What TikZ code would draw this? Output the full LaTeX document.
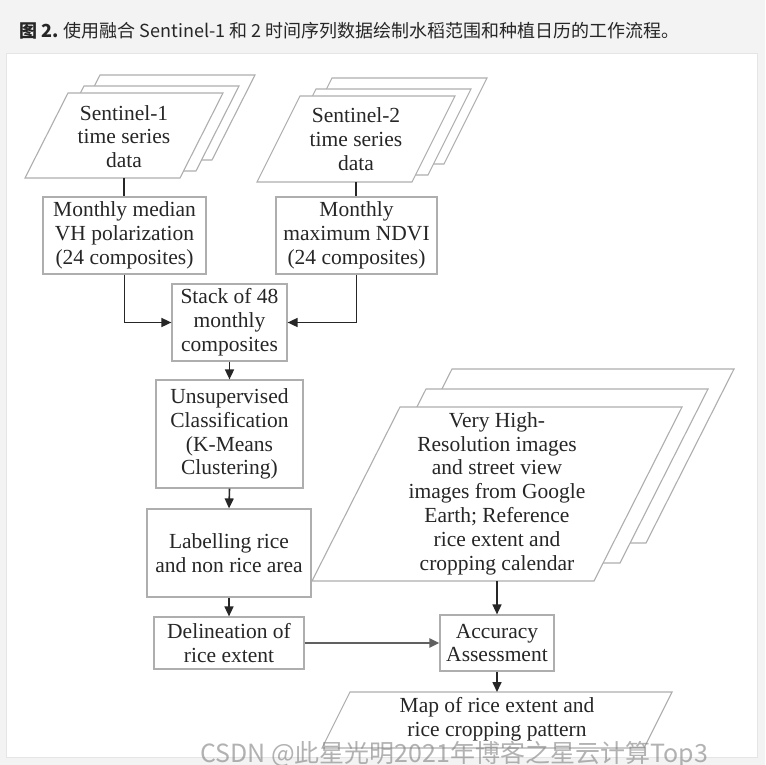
\documentclass[tikz,border=0pt]{standalone}
\usepackage{fontspec}
\setmainfont{Liberation Serif}
\newfontfamily\cjk{Noto Sans CJK SC}
\usepackage{xcolor}
\usetikzlibrary{arrows.meta, positioning, calc}

\definecolor{inkgray}{HTML}{262626}
\definecolor{edgegray}{HTML}{AEAEAE}
\definecolor{pagegray}{HTML}{F3F3F3}

\tikzset{
  box/.style={draw=edgegray, line width=1.2pt, fill=white, align=center, inner sep=0pt,
    text=inkgray, font=\fontsize{21.5}{23.8}\selectfont},
  txt/.style={align=center, inner sep=0pt, text=inkgray, font=\fontsize{21.5}{23.8}\selectfont},
  sheet/.style={draw=edgegray, line width=1.1pt, fill=white},
  link/.style={draw=inkgray, line width=1.6pt},
  flow/.style={link, -{Triangle[length=10pt,width=9pt]}},
}

\begin{document}
\begin{tikzpicture}[x=1pt, y=-1pt]
  % Fond
  \useasboundingbox (0,0) rectangle (765,765);
  \fill[pagegray] (0,0) rectangle (765,765);
  \filldraw[fill=white, draw=gray!20] (6,53) rectangle (757,757);
  \node[anchor=west, inner sep=0pt, text=black!85, font=\cjk\fontsize{18}{20}\selectfont] (titre) at (19,31)
    {\textbf{图 2.} 使用融合 Sentinel-1 和 2 时间序列数据绘制水稻范围和种植日历的工作流程。};

  % Donnees d'entree (piles de feuilles)
  \draw[sheet] (100,75) -- ++(155,0) -- ++(-43,85) -- ++(-155,0) -- cycle;
  \draw[sheet] (84,86) -- ++(155,0) -- ++(-43,85) -- ++(-155,0) -- cycle;
  \draw[sheet] (68,93) -- ++(155,0) -- ++(-43,85) -- ++(-155,0) -- cycle;
  \node[txt] (s1) at (124,136.5) {Sentinel-1\\time series\\data};
  \coordinate (s1bas) at (124,178);

  \draw[sheet] (332,78) -- ++(155,0) -- ++(-43,86) -- ++(-155,0) -- cycle;
  \draw[sheet] (316,89) -- ++(155,0) -- ++(-43,86) -- ++(-155,0) -- cycle;
  \draw[sheet] (300,96) -- ++(155,0) -- ++(-43,86) -- ++(-155,0) -- cycle;
  \node[txt] (s2) at (356,139) {Sentinel-2\\time series\\data};
  \coordinate (s2bas) at (356,182);

  \draw[sheet] (452,369) -- ++(282,0) -- ++(-88,174) -- ++(-282,0) -- cycle;
  \draw[sheet] (426,389) -- ++(282,0) -- ++(-88,174) -- ++(-282,0) -- cycle;
  \draw[sheet] (400,407) -- ++(282,0) -- ++(-88,174) -- ++(-282,0) -- cycle;
  \node[txt] (vhr) at (497,493.5) {Very High-\\Resolution images\\and street view\\images from Google\\Earth; Reference\\rice extent and\\cropping calendar};
  \coordinate (vhrbas) at (497,581);

  % Etapes
  \node[box, minimum width=163pt, minimum height=77pt] (vh) at (124.5,235.5) {Monthly median\\VH polarization\\(24 composites)};
  \node[box, minimum width=161pt, minimum height=77pt] (ndvi) at (356.5,235.5) {Monthly\\maximum NDVI\\(24 composites)};
  \node[box, minimum width=115pt, minimum height=77pt] (stack) at (229.5,322.5) {Stack of 48\\monthly\\composites};
  \node[box, minimum width=147pt, minimum height=108pt] (kmeans) at (229.5,434) {Unsupervised\\Classification\\(K-Means\\Clustering)};
  \node[box, minimum width=164pt, minimum height=88pt] (label) at (229,553) {Labelling rice\\and non rice area};
  \node[box, minimum width=150pt, minimum height=52pt] (delin) at (229,643) {Delineation of\\rice extent};
  \node[box, minimum width=114pt, minimum height=56pt] (acc) at (497,643) {Accuracy\\Assessment};

  % Sortie
  \draw[sheet] (350,692) -- ++(322,0) -- ++(-28,56) -- ++(-322,0) -- cycle;
  \node[txt] (map) at (497,719) {Map of rice extent and\\rice cropping pattern};
  \coordinate (maphaut) at (497,692);

  % Liaisons
  \draw[link] (s1bas) -- (s1bas |- vh.north);
  \draw[link] (s2bas) -- (s2bas |- ndvi.north);
  \draw[flow] (vh.south) |- (stack.west);
  \draw[flow] (ndvi.south) |- (stack.east);
  \draw[flow] (stack.south) -- (kmeans.north);
  \draw[flow] (kmeans.south) -- (label.north);
  \draw[flow] (label.south) -- (delin.north);
  \draw[flow, draw=gray!75!black, line width=2.6pt] (delin.east) -- (acc.west);
  \draw[flow] (vhrbas) -- (acc.north);
  \draw[flow] (acc.south) -- (maphaut);

  % Filigrane
  \node[anchor=base west, inner sep=0pt, text=gray, opacity=0.6, font=\cjk\fontsize{25}{28}\selectfont] (filigrane) at (200,762)
    {CSDN @此星光明2021年博客之星云计算Top3};
\end{tikzpicture}
\end{document}
